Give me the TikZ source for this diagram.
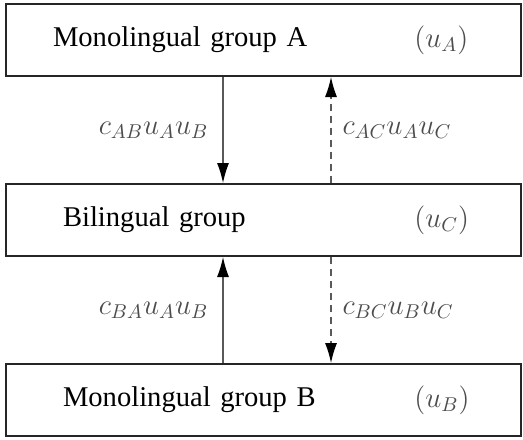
\documentclass[tikz,border=0pt]{standalone}
\usepackage{fontspec}
\setmainfont{Liberation Serif}
\usepackage{tikz}
\usetikzlibrary{arrows.meta, positioning}

\begin{document}
\begin{tikzpicture}[
    % Setting up styles here keeps the drawing code clean
    group/.style = {rectangle, draw=black!85, line width=1pt, minimum height=36pt,
                    text width=200.5pt, inner xsep=28.5pt, align=left,
                    font=\fontsize{14.3pt}{17pt}\selectfont},
    pop/.style = {anchor=west, inner sep=0pt, text=black!70, font=\fontsize{14.3pt}{17pt}\selectfont},
    flow/.style = {black!65, line width=0.6pt, -{Latex[length=10pt, width=6pt, color=black]}},
    dflow/.style = {flow, dash pattern=on 3.5pt off 2.5pt},
    lbl/.style = {midway, inner sep=0pt, text=black!70, font=\fontsize{14.3pt}{17pt}\selectfont}
]

    % fixed page size with margins
    \useasboundingbox (0,0) rectangle (261.5pt,-219.5pt);

    % 1. The three groups stacked with equal gaps (border-to-border)
    \node (grpA) [group, inner xsep=23.5pt, text width=210.5pt] at (131.75pt,-20pt) {Monolingual group A};
    \node (grpC) [group, below=53pt of grpA] {Bilingual group};
    \node (grpB) [group, below=53pt of grpC] {Monolingual group B};

    % 2. Population sizes at the right end of each box
    \node (uA) [pop] at ([xshift=204.5pt]grpA.west) {$(u_A)$};
    \node (uC) [pop] at ([xshift=204.5pt]grpC.west) {$(u_C)$};
    \node (uB) [pop] at ([xshift=204.5pt]grpB.west) {$(u_B)$};

    % 3. Transfers between A and the bilinguals
    \draw [flow]  ([xshift=109pt]grpA.south west) -- ([xshift=109pt]grpC.north west) node[lbl, left=7pt] {$c_{AB}u_Au_B$};
    \draw [dflow] ([xshift=163pt]grpC.north west) -- ([xshift=163pt]grpA.south west) node[lbl, right=5.5pt] {$c_{AC}u_Au_C$};

    % 4. Transfers between B and the bilinguals
    \draw [flow]  ([xshift=109pt]grpB.north west) -- ([xshift=109pt]grpC.south west) node[lbl, left=7pt] {$c_{BA}u_Au_B$};
    \draw [dflow] ([xshift=163pt]grpC.south west) -- ([xshift=163pt]grpB.north west) node[lbl, right=5.5pt] {$c_{BC}u_Bu_C$};

\end{tikzpicture}
\end{document}
